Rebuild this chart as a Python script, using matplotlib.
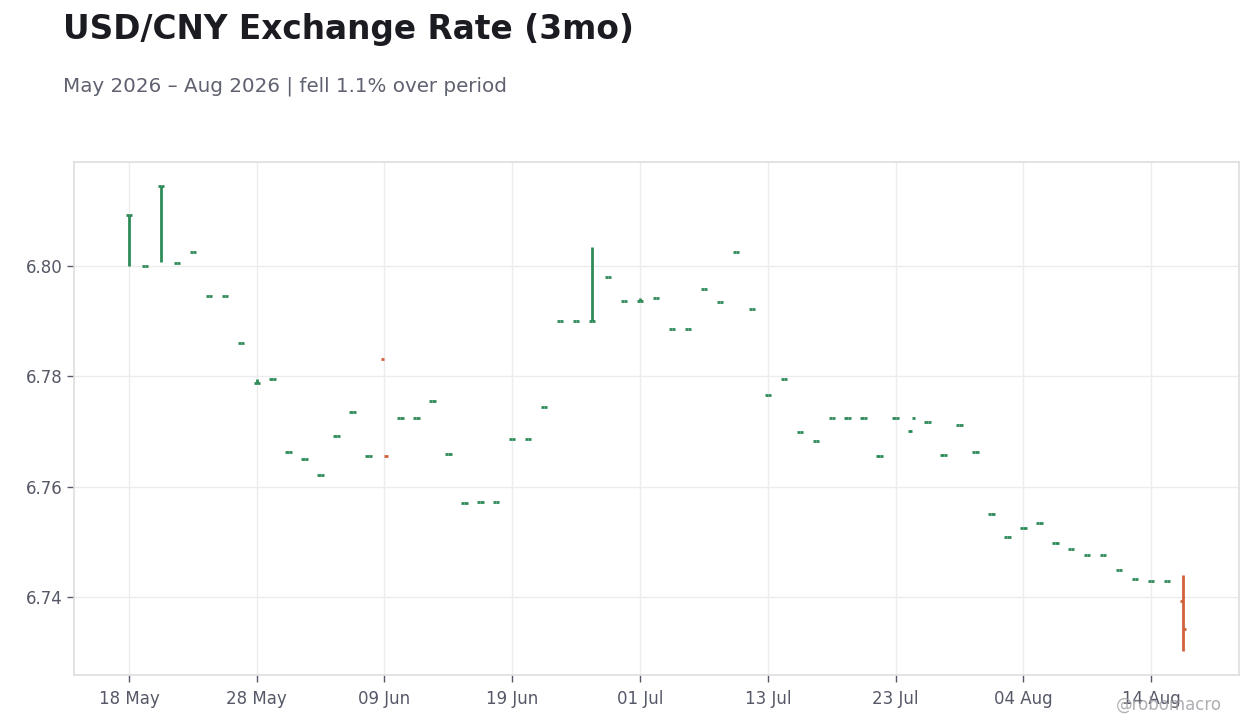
import numpy as np
import pandas as pd
import matplotlib.pyplot as plt

# Données OHLC (jours ouvrés à partir du 18 mai 2026)
dates = pd.bdate_range('2026-05-18', periods=67)

opens = [6.8093, 6.8000, 6.8146, 6.8005, 6.8025, 6.7946, 6.7946, 6.7860, 6.7788, 6.7795,
         6.7663, 6.7650, 6.7621, 6.7692, 6.7735, 6.7656, 6.7831, 6.7724, 6.7724, 6.7755,
         6.7659, 6.7570, 6.7572, 6.7572, 6.7686, 6.7686, 6.7744, 6.7900, 6.7900, 6.7900,
         6.7980, 6.7937, 6.7937, 6.7942, 6.7886, 6.7886, 6.7958, 6.7935, 6.8025, 6.7922,
         6.7766, 6.7795, 6.7699, 6.7683, 6.7724, 6.7724, 6.7725, 6.7656, 6.7725, 6.7701,
         6.7718, 6.7658, 6.7711, 6.7662, 6.7551, 6.7509, 6.7524, 6.7533, 6.7497, 6.7487,
         6.7475, 6.7475, 6.7449, 6.7433, 6.7428, 6.7428, 6.7393]
closes = [6.8093, 6.8000, 6.8146, 6.8005, 6.8025, 6.7946, 6.7946, 6.7860, 6.7788, 6.7795,
          6.7663, 6.7650, 6.7621, 6.7692, 6.7735, 6.7656, 6.7656, 6.7724, 6.7724, 6.7755,
          6.7659, 6.7570, 6.7572, 6.7572, 6.7686, 6.7686, 6.7744, 6.7900, 6.7900, 6.7900,
          6.7980, 6.7937, 6.7937, 6.7942, 6.7886, 6.7886, 6.7958, 6.7935, 6.8025, 6.7922,
          6.7766, 6.7795, 6.7699, 6.7683, 6.7724, 6.7724, 6.7725, 6.7656, 6.7725, 6.7725,
          6.7718, 6.7658, 6.7711, 6.7662, 6.7551, 6.7509, 6.7524, 6.7533, 6.7497, 6.7487,
          6.7475, 6.7475, 6.7449, 6.7433, 6.7428, 6.7428, 6.7342]
highs = [6.8093, 6.8000, 6.8146, 6.8005, 6.8025, 6.7946, 6.7946, 6.7860, 6.7795, 6.7795,
         6.7663, 6.7650, 6.7621, 6.7692, 6.7735, 6.7656, 6.7656, 6.7724, 6.7724, 6.7755,
         6.7659, 6.7570, 6.7572, 6.7572, 6.7686, 6.7686, 6.7744, 6.7900, 6.7900, 6.8034,
         6.7980, 6.7937, 6.7942, 6.7942, 6.7886, 6.7886, 6.7958, 6.7935, 6.8025, 6.7922,
         6.7766, 6.7795, 6.7699, 6.7683, 6.7724, 6.7724, 6.7725, 6.7656, 6.7725, 6.7701,
         6.7718, 6.7658, 6.7711, 6.7662, 6.7551, 6.7509, 6.7524, 6.7533, 6.7497, 6.7487,
         6.7475, 6.7475, 6.7449, 6.7433, 6.7428, 6.7428, 6.7440]
lows = [6.8000, 6.8000, 6.8007, 6.8005, 6.8025, 6.7946, 6.7946, 6.7860, 6.7788, 6.7795,
        6.7663, 6.7650, 6.7621, 6.7692, 6.7735, 6.7656, 6.7656, 6.7724, 6.7724, 6.7755,
        6.7659, 6.7570, 6.7572, 6.7572, 6.7686, 6.7686, 6.7744, 6.7900, 6.7900, 6.7900,
        6.7980, 6.7937, 6.7937, 6.7942, 6.7886, 6.7886, 6.7958, 6.7935, 6.8025, 6.7922,
        6.7766, 6.7795, 6.7699, 6.7683, 6.7724, 6.7724, 6.7725, 6.7656, 6.7725, 6.7701,
        6.7718, 6.7658, 6.7711, 6.7662, 6.7551, 6.7509, 6.7524, 6.7533, 6.7497, 6.7487,
        6.7475, 6.7475, 6.7449, 6.7433, 6.7428, 6.7428, 6.7301]

o = np.array(opens)
c = np.array(closes)
h = np.array(highs)
l = np.array(lows)
x = np.arange(len(dates))

vert = '#2e8b57'
rouge = '#d1603d'
cores = np.where(c >= o, vert, rouge)

fig = plt.figure(figsize=(12.6, 7.28), dpi=100)
ax = fig.add_axes([74 / 1260, 53 / 728, 1165 / 1260, 513 / 728])

# Barres OHLC : ligne haut-bas + tiret ouverture (gauche) et clôture (droite)
lw = 2.0
tick = 0.2
ax.vlines(x, l, h, colors=cores, linewidth=lw)
ax.hlines(o, x - tick, x, colors=cores, linewidth=lw)
ax.hlines(c, x, x + tick, colors=cores, linewidth=lw)

# Axes
ax.set_xlim(-3.44, 69.5)
ax.set_ylim(6.7258, 6.8189)
pos = x[::8]
ax.set_xticks(pos)
ax.set_xticklabels([dates[i].strftime('%d %b') for i in pos])
ax.set_yticks([6.74, 6.76, 6.78, 6.80])
ax.set_yticklabels(['6.74', '6.76', '6.78', '6.80'])
ax.tick_params(axis='both', labelsize=12, labelcolor='#555866', color='#555866',
               length=5, width=1)
ax.tick_params(axis='x', pad=6)
ax.grid(True, color='#ececec', linewidth=1)
ax.set_axisbelow(True)
for s in ax.spines.values():
    s.set_color('#dedede')
    s.set_linewidth(1.2)

# Titres
fig.text(63 / 1260, 1 - 30 / 728, 'USD/CNY Exchange Rate (3mo)', fontsize=23.6,
         fontweight='bold', color='#1b1b22', va='center', ha='left')
fig.text(63 / 1260, 1 - 86 / 728, 'May 2026 – Aug 2026 | fell 1.1% over period',
         fontsize=14.3, color='#5f6170', va='center', ha='left')
fig.text(1222 / 1260, 1 - 705 / 728, '@robomacro', fontsize=12, color='#9a9aa0',
         alpha=0.8, va='center', ha='right')

fig.savefig('out.png', dpi=100)
